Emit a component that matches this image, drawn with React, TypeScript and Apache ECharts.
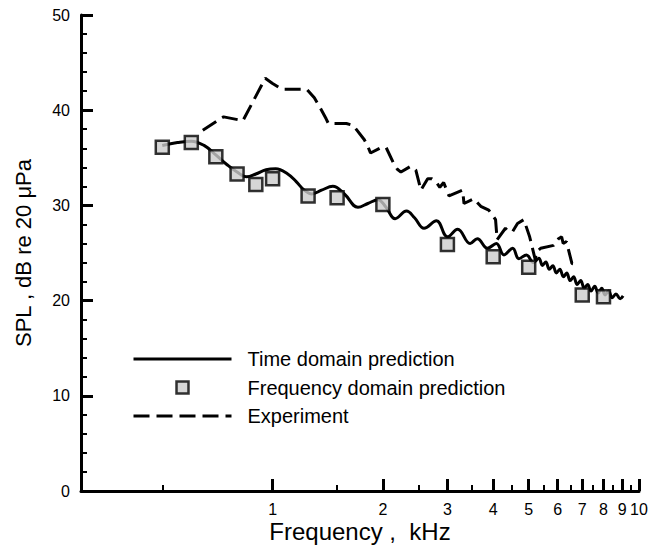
import React, { useEffect, useRef } from "react";
import * as echarts from "echarts";

// ---------- data ----------
const majorTicks = [1, 2, 3, 4, 5, 6, 7, 8, 9, 10];
const minorTicks = [0.5, 1.5, 2.5, 3.5, 4.5, 5.5, 6.5, 7.5, 8.5, 9.5];
const xMinKHz = 0.3;
const xMaxKHz = 10;

const timeFreq = [
  0.5, 0.55, 0.6, 0.65, 0.7, 0.75, 0.8, 0.85, 0.9, 0.96, 1.02, 1.1, 1.16, 1.22, 1.28,
  1.36, 1.46, 1.57, 1.71, 1.82, 1.94, 2.04, 2.16, 2.32, 2.44, 2.59, 2.8, 3.0, 3.2,
  3.46, 3.62, 3.86, 4.08, 4.28, 4.52, 4.7, 4.93, 5.15, 5.33, 5.45, 5.57, 5.69, 5.82,
  5.95, 6.08, 6.22, 6.35, 6.49, 6.63, 6.78, 6.93, 7.09, 7.24, 7.4, 7.57, 7.74, 7.91,
  8.08, 8.26, 8.45, 8.65, 8.88, 9.05,
];
const timeSpl = [
  36.3, 36.6, 36.75, 36.3, 35.3, 34.3, 33.5, 33.0, 33.3, 33.75, 33.85, 33.3, 32.5, 31.6, 31.2,
  31.6, 32.0, 31.2, 29.8, 30.2, 30.6, 29.8, 28.6, 29.4, 28.7, 27.6, 28.4, 26.7, 27.5,
  26.0, 26.5, 25.5, 26.0, 24.8, 25.5, 24.4, 24.8, 24.0, 24.45, 23.7, 24.05, 23.3, 23.65,
  22.9, 23.3, 22.5, 22.9, 22.1, 22.5, 21.7, 22.1, 21.3, 21.7, 21.0, 21.5, 20.8, 21.3,
  20.6, 21.0, 20.3, 20.7, 20.2, 20.5,
];

const freqDomFreq = [0.5, 0.6, 0.7, 0.8, 0.9, 1.0, 1.25, 1.5, 2, 3, 4, 5, 7, 8];
const freqDomSpl = [36.1, 36.6, 35.1, 33.3, 32.2, 32.8, 31.0, 30.8, 30.1, 25.9, 24.6, 23.5, 20.6, 20.4];

const expFreq = [
  0.645, 0.72, 0.735, 0.83, 0.955, 1.0, 1.06, 1.24, 1.3, 1.36, 1.4, 1.42, 1.59, 1.66,
  1.78, 1.82, 1.85, 1.96, 2.04, 2.14, 2.19, 2.24, 2.38, 2.46, 2.54, 2.65, 2.72, 2.79,
  2.86, 2.93, 3.03, 3.3, 3.33, 3.54, 3.7, 3.89, 3.98, 4.06, 4.1, 4.32, 4.37, 4.51,
  4.66, 4.85, 5.03, 5.21, 5.25, 5.39, 5.85, 6.03, 6.15, 6.21, 6.34, 6.56, 6.79,
];
const expSpl = [
  37.9, 39.1, 39.3, 38.9, 43.35, 42.8, 42.2, 42.2, 41.3, 40.0, 39.1, 38.6, 38.6, 38.4,
  36.9, 36.2, 35.5, 36.0, 36.1, 34.4, 33.8, 33.5, 34.1, 33.7, 31.6, 32.8, 32.8, 32.5,
  31.9, 32.4, 31.0, 31.6, 30.2, 30.7, 29.9, 29.5, 29.0, 28.5, 26.4, 27.6, 27.4, 27.2,
  28.1, 28.5, 26.7, 24.3, 25.1, 25.5, 25.8, 26.5, 26.7, 26.0, 26.2, 23.9, 23.8,
];

const yTitle = "SPL , dB re 20 \u03bcPa";
const xTitle = "Frequency ,\u00a0 kHz";
const nameTime = "Time domain prediction";
const nameFreq = "Frequency domain prediction";
const nameExp = "Experiment";

const FONT = '"Liberation Sans", Arial, Helvetica, sans-serif';
const lg = (v: number) => Math.log10(v);
const pairs = (f: number[], v: number[]) => f.map((x, i) => [lg(x), v[i]]);
const hiddenSymbol = { color: "rgba(0,0,0,0)", borderWidth: 0, opacity: 0 };

export default function App() {
  const ref = useRef<HTMLDivElement>(null);
  useEffect(() => {
    if (!ref.current) return;
    const chart = echarts.init(ref.current, null, { renderer: "svg" });
    const xmin = lg(xMinKHz);
    const xmax = lg(xMaxKHz);
    chart.setOption({
      animation: false,
      backgroundColor: "#fff",
      textStyle: { fontFamily: FONT, color: "#000" },
      grid: { left: 81, right: 11, top: 15, bottom: 56, containLabel: false, outerBoundsMode: "none" },
      legend: {
        orient: "vertical",
        left: 132,
        top: 349,
        padding: 0,
        itemWidth: 98,
        itemHeight: 12,
        itemGap: 8.5,
        selectedMode: false,
        symbolKeepAspect: true,
        lineStyle: { width: 3 },
        textStyle: { fontFamily: FONT, fontSize: 20, lineHeight: 20, color: "#000", padding: [0, 0, 0, 11] },
        data: [
          { name: nameTime, itemStyle: hiddenSymbol },
          {
            name: nameFreq,
            icon: "path://M0,0H10V10H0Z",
            itemStyle: { color: "#cccccc", borderColor: "#000", borderWidth: 2.5 },
          },
          { name: nameExp, itemStyle: hiddenSymbol },
        ],
      },
      xAxis: [
        {
          type: "value",
          min: xmin,
          max: xmax,
          position: "bottom",
          name: xTitle,
          nameLocation: "middle",
          nameGap: 28,
          nameMoveOverlap: false,
          nameTextStyle: { fontFamily: FONT, fontSize: 24, lineHeight: 24, color: "#000" },
          axisLine: { show: true, onZero: false, lineStyle: { color: "#000", width: 3 } },
          axisTick: {
            show: true,
            inside: true,
            length: 12,
            lineStyle: { color: "#000", width: 3 },
            customValues: majorTicks.map(lg),
          },
          axisLabel: {
            customValues: majorTicks.map(lg),
            formatter: (v: number) => String(Math.round(Math.pow(10, v))),
            fontFamily: FONT,
            fontSize: 16,
            lineHeight: 16,
            color: "#000",
            margin: 10,
          },
          splitLine: { show: false },
        },
        {
          type: "value",
          min: xmin,
          max: xmax,
          position: "bottom",
          axisLine: { show: false, onZero: false },
          axisTick: {
            show: true,
            inside: true,
            length: 6,
            lineStyle: { color: "#000", width: 2 },
            customValues: minorTicks.map(lg),
          },
          axisLabel: { show: false },
          splitLine: { show: false },
        },
      ],
      yAxis: {
        type: "value",
        min: 0,
        max: 50,
        interval: 10,
        name: yTitle,
        nameLocation: "middle",
        nameGap: 47,
        nameMoveOverlap: false,
        nameTextStyle: { fontFamily: FONT, fontSize: 22, color: "#000" },
        axisLine: { show: true, onZero: false, lineStyle: { color: "#000", width: 3 } },
        axisTick: { show: true, inside: true, length: 12, lineStyle: { color: "#000", width: 3 } },
        minorTick: { show: true, splitNumber: 5, length: 6, lineStyle: { color: "#000", width: 2 } },
        axisLabel: { fontFamily: FONT, fontSize: 16, color: "#000", margin: 11 },
        splitLine: { show: false },
      },
      series: [
        {
          name: nameTime,
          type: "line",
          xAxisIndex: 0,
          data: pairs(timeFreq, timeSpl),
          symbol: "none",
          smooth: 0.4,
          lineStyle: { color: "#000", width: 3, type: "solid" },
          itemStyle: { color: "#000" },
          z: 2,
        },
        {
          name: nameExp,
          type: "line",
          xAxisIndex: 0,
          data: pairs(expFreq, expSpl),
          symbol: "none",
          lineStyle: { color: "#000", width: 3, type: [16, 7] },
          itemStyle: { color: "#000" },
          z: 2,
        },
        {
          name: nameFreq,
          type: "scatter",
          xAxisIndex: 0,
          data: pairs(freqDomFreq, freqDomSpl),
          symbol: "rect",
          symbolSize: 13,
          itemStyle: { color: "#cccccc", borderColor: "#000", borderWidth: 2.5 },
          z: 4,
        },
      ],
    });
    return () => chart.dispose();
  }, []);
  return (
    <div
      ref={ref}
      style={{ position: "fixed", left: 0, top: 0, width: 650, height: 547, background: "#fff" }}
    />
  );
}
